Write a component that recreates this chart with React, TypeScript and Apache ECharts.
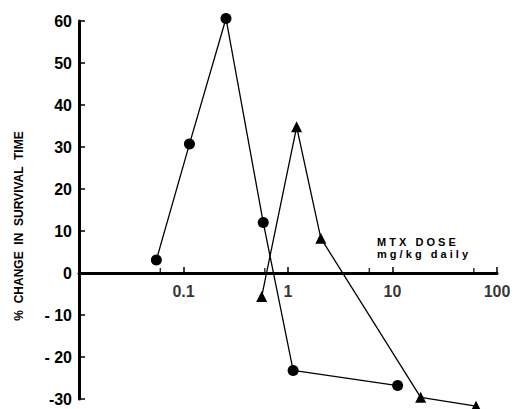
import React, { useEffect, useRef } from "react";
import * as echarts from "echarts";

// MTX dose (mg/kg daily) vs % change in survival time
const circleDose = [0.055, 0.114, 0.255, 0.58, 1.12, 11.2];
const circleChange = [3.1, 30.7, 60.6, 12.0, -23.2, -26.8];
const triangleDose = [0.56, 1.21, 2.06, 18.6, 63];
const triangleChange = [-5.6, 34.8, 8.3, -29.6, -31.7];
const minorTickDoses = [0.06, 0.6, 6, 60];
const xLabelDoses = [0.1, 1, 10, 100];
const xLabelTexts = ["0.1", "1", "10", "100"];
const yTickLabels: Record<string, string> = {
  "60": "60", "50": "50", "40": "40", "30": "30", "20": "20", "10": "10",
  "0": "0", "-10": "- 10", "-20": "- 20", "-30": "-30",
};

const FONT = "Liberation Sans";

export default function App() {
  const ref = useRef<HTMLDivElement>(null);
  useEffect(() => {
    if (!ref.current) return;
    const chart = echarts.init(ref.current, undefined, { renderer: "svg" });
    chart.setOption({
      animation: false,
      backgroundColor: "#fff",
      grid: { left: 79, right: 18, top: 21, bottom: 10, containLabel: false, outerBoundsMode: "none" },
      xAxis: {
        type: "log",
        min: 0.01,
        max: 100,
        logBase: 10,
        axisLine: { onZero: true, lineStyle: { color: "#000", width: 3 } },
        axisTick: { show: true, inside: true, length: 6, lineStyle: { color: "#000", width: 1.5 } },
        splitLine: { show: false },
        axisLabel: { show: false },
      },
      yAxis: {
        type: "value",
        min: -30,
        max: 60,
        interval: 10,
        axisLine: { onZero: false, lineStyle: { color: "#000", width: 3 } },
        axisTick: { show: true, inside: true, length: 6, lineStyle: { color: "#000", width: 1.5 } },
        splitLine: { show: false },
        axisLabel: {
          color: "#000",
          fontFamily: FONT,
          fontWeight: "bold",
          fontSize: 16,
          margin: 7,
          formatter: (v: number) => yTickLabels[String(v)] ?? String(v),
        },
      },
      graphic: [
        {
          type: "text",
          x: 19,
          y: 226,
          rotation: Math.PI / 2,
          style: {
            text: "%  CHANGE  IN  SURVIVAL  TIME",
            fill: "#000",
            font: `bold 12px "${FONT}"`,
            align: "center",
            verticalAlign: "middle",
          },
        },
        {
          type: "text",
          x: 377,
          y: 242,
          style: {
            text: "M T X   D O S E",
            fill: "#000",
            font: `bold 11px "${FONT}"`,
            align: "left",
            verticalAlign: "middle",
          },
        },
        {
          type: "text",
          x: 377,
          y: 254,
          style: {
            text: "m g / k g   d a i l y",
            fill: "#000",
            font: `bold 11px "${FONT}"`,
            align: "left",
            verticalAlign: "middle",
          },
        },
      ],
      series: [
        {
          type: "line",
          data: circleDose.map((d, i) => [d, circleChange[i]]),
          symbol: "circle",
          symbolSize: 11,
          clip: false,
          lineStyle: { color: "#000", width: 1.3 },
          itemStyle: { color: "#000" },
          z: 3,
        },
        {
          type: "line",
          data: triangleDose.map((d, i) => [d, triangleChange[i]]),
          symbol: "triangle",
          symbolSize: 11,
          clip: false,
          lineStyle: { color: "#000", width: 1.3 },
          itemStyle: { color: "#000" },
          z: 3,
        },
        {
          type: "scatter",
          data: minorTickDoses.map((d) => [d, 0]),
          symbol: "rect",
          symbolSize: [1.5, 4],
          symbolOffset: [0, -3],
          itemStyle: { color: "#000" },
          silent: true,
          z: 2,
        },
        {
          type: "scatter",
          data: xLabelDoses.map((d) => [d, 0]),
          symbolSize: 0,
          silent: true,
          clip: false,
          label: {
            show: true,
            position: "bottom",
            distance: 10,
            color: "#000",
            fontFamily: FONT,
            fontWeight: "bold",
            fontSize: 16,
            formatter: (p: any) => xLabelTexts[p.dataIndex],
          },
          z: 2,
        },
      ],
    });
    return () => chart.dispose();
  }, []);
  return <div ref={ref} style={{ width: 515, height: 409, position: "absolute", left: 0, top: 0 }} />;
}
